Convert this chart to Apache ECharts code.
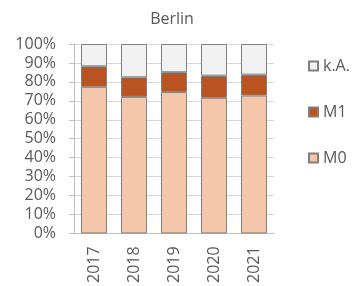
<!DOCTYPE html>
<html><head><meta charset="utf-8">
<script src="https://cdn.jsdelivr.net/npm/echarts@6/dist/echarts.min.js"></script>
<style>html,body{margin:0;padding:0;background:#fff}#c{width:355px;height:286px}</style>
</head><body><div id="c"></div>
<script>
const categories = ['2017','2018','2019','2020','2021'];
const m0 = [77.4, 72.1, 74.7, 71.6, 72.8];
const m1 = [10.8, 10.3, 10.4, 11.7, 11.0];
const ka = [11.8, 17.6, 14.9, 16.7, 16.2];
const yTicks = [0,10,20,30,40,50,60,70,80,90,100];

const font = 'Open Sans';
const txt = '#595959';
const chart = echarts.init(document.getElementById('c'), null, {renderer:'canvas'});
const border = {borderColor:'#808080', borderWidth:1};
chart.setOption({
  animation:false,
  title:{text:'Berlin', left:167, top:6, textAlign:'center',
    textStyle:{fontFamily:font, fontSize:16, fontWeight:'normal', color:txt}},
  legend:{orient:'vertical', left:303, top:53, itemGap:30, itemWidth:9, itemHeight:9,
    icon:'rect', data:['k.A.','M1','M0'],
    textStyle:{fontFamily:font, fontSize:16, color:txt}},
  grid:{left:74, right:81, top:44, bottom:52},
  xAxis:{type:'category', data:categories,
    axisLine:{lineStyle:{color:'#bfbfbf'}},
    axisTick:{length:5, lineStyle:{color:'#bfbfbf'}},
    axisLabel:{rotate:90, margin:13, fontFamily:font, fontSize:16, color:txt}},
  yAxis:{type:'value', min:0, max:100, interval:10,
    axisLine:{show:true, lineStyle:{color:'#bfbfbf'}},
    axisTick:{show:true, length:5, lineStyle:{color:'#bfbfbf'}},
    splitLine:{lineStyle:{color:'#d9d9d9'}},
    axisLabel:{margin:18, fontFamily:font, fontSize:16, color:txt,
      formatter:v=> yTicks.includes(v) ? v+'%' : ''}},
  series:[
    {name:'M0', type:'bar', stack:'a', data:m0, barWidth:26, itemStyle:Object.assign({color:'#f4c7aa'},border)},
    {name:'M1', type:'bar', stack:'a', data:m1, barWidth:26, itemStyle:Object.assign({color:'#b95422'},border)},
    {name:'k.A.', type:'bar', stack:'a', data:ka, barWidth:26, itemStyle:Object.assign({color:'#f2f2f2'},border)}
  ]
});
</script></body></html>
